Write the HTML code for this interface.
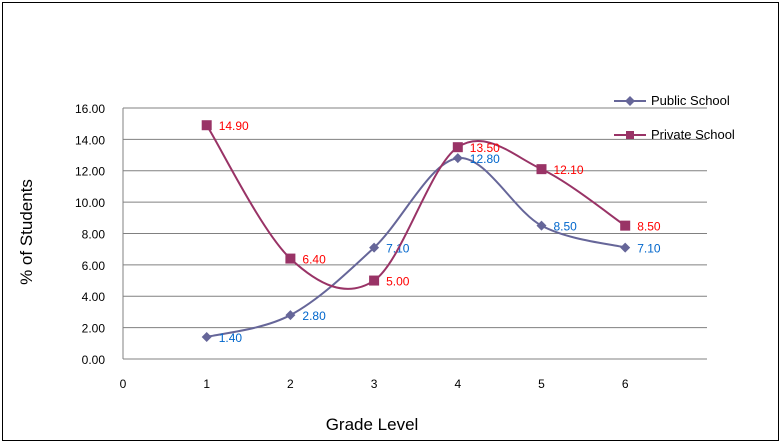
<!DOCTYPE html>
<html><head><meta charset="utf-8"><style>
body{margin:0;background:#fff;}
svg{display:block;font-family:"Liberation Sans",sans-serif;}
</style></head><body>
<svg id="chart" width="783" height="446">
<rect x="2.5" y="2.5" width="776" height="438" fill="#fff" stroke="#000" stroke-width="1"/>
<g id="grid"></g><g id="series"></g><g id="axes"></g>
<text x="372" y="430" font-size="17" text-anchor="middle">Grade Level</text>
<text transform="translate(32,232) rotate(-90)" font-size="17" text-anchor="middle">% of Students</text>
<g>
<g>
<line x1="614" y1="101" x2="646" y2="101" stroke="#666699" stroke-width="2"/>
<path d="M630,96 L635,101 L630,106 L625,101Z" fill="#666699"/>
<text x="651" y="105" font-size="13">Public School</text></g>
<g>
<line x1="614" y1="135" x2="646" y2="135" stroke="#993366" stroke-width="2"/>
<rect x="626" y="131" width="8" height="8" fill="#993366"/>
<text x="651" y="139" font-size="13">Private School</text></g>
</g>
</svg>
<script>
const grades=[1,2,3,4,5,6];
const publicVals=[1.4,2.8,7.1,12.8,8.5,7.1];
const privateVals=[14.9,6.4,5.0,13.5,12.1,8.5];
const yTicks=[0,2,4,6,8,10,12,14,16];
const xTicks=[0,1,2,3,4,5,6];
const NS="http://www.w3.org/2000/svg";
const X=v=>123+v*83.7, Y=v=>359-v*15.69;
function mk(t,a,p){const e=document.createElementNS(NS,t);for(const k in a)e.setAttribute(k,a[k]);p.appendChild(e);return e;}
const grid=document.getElementById('grid'),axes=document.getElementById('axes'),ser=document.getElementById('series');
yTicks.forEach(v=>{
 if(v>0){const l=mk('line',{x1:123,x2:707,y1:Y(v),y2:Y(v),stroke:'#808080'},grid);
 
 }
 const t=mk('text',{x:105,y:Y(v)+5,'font-size':12,'text-anchor':'end'},axes);t.textContent=v.toFixed(2);
 
 
});
mk('line',{x1:123,x2:123,y1:Y(16),y2:Y(0),stroke:'#808080'},axes);
mk('line',{x1:123,x2:707,y1:Y(0),y2:Y(0),stroke:'#808080'},axes);
xTicks.forEach(v=>{const t=mk('text',{x:X(v),y:388,'font-size':12,'text-anchor':'middle'},axes);t.textContent=v;
 
 });
function smooth(pts){let d=`M${pts[0][0]},${pts[0][1]}`;
 for(let i=0;i<pts.length-1;i++){const p0=pts[i-1]||pts[i],p1=pts[i],p2=pts[i+1],p3=pts[i+2]||p2;
 const c1=[p1[0]+(p2[0]-p0[0])/6,p1[1]+(p2[1]-p0[1])/6],c2=[p2[0]-(p3[0]-p1[0])/6,p2[1]-(p3[1]-p1[1])/6];
 d+=` C${c1[0]},${c1[1]} ${c2[0]},${c2[1]} ${p2[0]},${p2[1]}`;}return d;}
function series(vals,color,lab,shape,name){
 const pts=grades.map((g,i)=>[X(g),Y(vals[i])]);
 const p=mk('path',{d:smooth(pts),fill:'none',stroke:color,'stroke-width':2},ser);
 
 
 pts.forEach((q,i)=>{let m;
  if(shape==='d')m=mk('path',{d:`M${q[0]},${q[1]-5}L${q[0]+5},${q[1]}L${q[0]},${q[1]+5}L${q[0]-5},${q[1]}Z`,fill:color},ser);
  else m=mk('rect',{x:q[0]-5,y:q[1]-5,width:10,height:10,fill:color},ser);
  
  
  const t=mk('text',{x:q[0]+12,y:q[1]+5,'font-size':12,fill:lab},ser);t.textContent=vals[i].toFixed(2);
  
  });
}
series(publicVals,'#666699','#0066CC','d','public-school');
series(privateVals,'#993366','#FF0000','s','private-school');
</script>
</body></html>
